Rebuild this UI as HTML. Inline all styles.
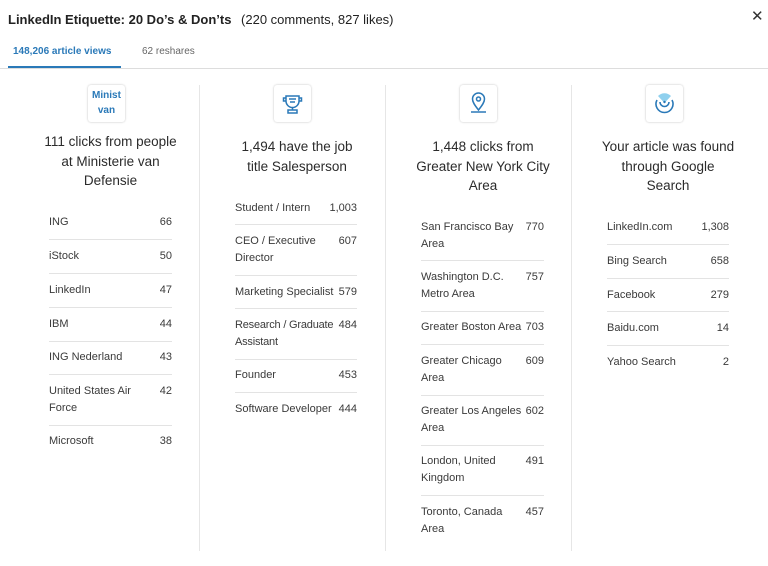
<!DOCTYPE html>
<html><head><meta charset="utf-8"><style>
body{margin:0;width:768px;height:566px;background:#fff;position:relative;overflow:hidden;font-family:"Liberation Sans",sans-serif;color:#333}
.a{position:absolute;white-space:nowrap}
.t{font-size:11px;line-height:17px;color:#3a3a3a}
.n{font-size:11px;line-height:17px;color:#3a3a3a;text-align:right}
.h{font-size:13.5px;line-height:19.5px;color:#2b2b2b;text-align:center;white-space:normal}
.sep{position:absolute;height:1px;background:#e3e3e3}
.vd{position:absolute;width:1px;background:#e6e6e6;top:85px;height:466px}
.ic{position:absolute;width:37px;height:37px;border-radius:3px;box-shadow:0 0 2px rgba(0,0,0,.25);background:#fff;top:85px}
</style></head><body>
<div class="a" style="left:8px;top:11px;font-size:13px;font-weight:bold;color:#222;line-height:18px">LinkedIn Etiquette: 20 Do’s &amp; Don’ts <span style="margin-left:6px;font-weight:normal;color:#222">(220 comments, 827 likes)</span></div>
<div class="a" style="left:751px;top:7px;font-size:15px;color:#333">✕</div>
<div class="a" style="left:13px;top:46px;font-size:10px;font-weight:bold;color:#2a79b8">148,206 article views</div>
<div class="a" style="left:142px;top:46px;font-size:10px;color:#666">62 reshares</div>
<div style="position:absolute;left:0;top:68px;width:768px;height:1px;background:#ddd"></div>
<div style="position:absolute;left:8px;top:66px;width:113px;height:2px;background:#2a79b8"></div>

<div class="vd" style="left:199px"></div><div class="vd" style="left:385px"></div><div class="vd" style="left:571px"></div>

<div class="ic" style="left:88px;overflow:hidden;font-size:10px;font-weight:bold;color:#2a79b8;text-align:center;line-height:15px;padding-top:3px;height:34px">Minist<br>van</div>
<div class="ic" style="left:274px"><svg width="37" height="37"><g fill="none" stroke="#2a79b8" stroke-width="1.5"><path d="M12 11h13v5a6.5 6.5 0 0 1-13 0z"/><path d="M12 13h-2.5v3h2.5M25 13h2.5v3h-2.5M18.5 22v3M14 25h9v3h-9z"/><path d="M15 14h7M16 17h5"/></g></svg></div>
<div class="ic" style="left:460px"><svg width="37" height="37"><g fill="none" stroke="#2a79b8" stroke-width="1.5"><path d="M18.5 25c-4-5-6-8-6-11a6 6 0 0 1 12 0c0 3-2 6-6 11z"/><circle cx="18.5" cy="14" r="2"/><path d="M11 27h15"/></g></svg></div>
<div class="ic" style="left:646px"><svg width="37" height="37"><path d="M12 11a9 9 0 0 1 13 0l-6.5 7z" fill="#8fd0ee"/><g fill="none" stroke="#2a79b8" stroke-width="1.6"><path d="M11 15a8.5 8.5 0 1 0 15 0"/><path d="M14 17a4.5 4.5 0 1 0 9 0"/></g><circle cx="18.5" cy="17" r="1.2" fill="#2a79b8"/></svg></div>

<div class="a h" style="left:43px;width:135px;top:132px">111 clicks from people at Ministerie van Defensie</div>
<div class="a h" style="left:234px;width:126px;top:137px">1,494 have the job title Salesperson</div>
<div class="a h" style="left:408px;width:150px;top:137px">1,448 clicks from Greater New York City Area</div>
<div class="a h" style="left:599px;width:138px;top:137px">Your article was found through Google Search</div>

<!-- col1 -->
<div class="a t" style="left:49px;top:214px">ING</div><div class="a n" style="left:130px;width:42px;top:214px">66</div>
<div class="sep" style="left:49px;width:123px;top:239px"></div>
<div class="a t" style="left:49px;top:248px">iStock</div><div class="a n" style="left:130px;width:42px;top:248px">50</div>
<div class="sep" style="left:49px;width:123px;top:273px"></div>
<div class="a t" style="left:49px;top:282px">LinkedIn</div><div class="a n" style="left:130px;width:42px;top:282px">47</div>
<div class="sep" style="left:49px;width:123px;top:307px"></div>
<div class="a t" style="left:49px;top:316px">IBM</div><div class="a n" style="left:130px;width:42px;top:316px">44</div>
<div class="sep" style="left:49px;width:123px;top:341px"></div>
<div class="a t" style="left:49px;top:349px">ING Nederland</div><div class="a n" style="left:130px;width:42px;top:349px">43</div>
<div class="sep" style="left:49px;width:123px;top:374px"></div>
<div class="a t" style="left:49px;top:383px">United States Air<br>Force</div><div class="a n" style="left:130px;width:42px;top:383px">42</div>
<div class="sep" style="left:49px;width:123px;top:425px"></div>
<div class="a t" style="left:49px;top:433px">Microsoft</div><div class="a n" style="left:130px;width:42px;top:433px">38</div>

<!-- col2 -->
<div class="a t" style="left:235px;top:200px">Student / Intern</div><div class="a n" style="left:307px;width:50px;top:200px">1,003</div>
<div class="sep" style="left:235px;width:122px;top:224px"></div>
<div class="a t" style="left:235px;top:233px">CEO / Executive<br>Director</div><div class="a n" style="left:307px;width:50px;top:233px">607</div>
<div class="sep" style="left:235px;width:122px;top:275px"></div>
<div class="a t" style="left:235px;top:284px">Marketing Specialist</div><div class="a n" style="left:307px;width:50px;top:284px">579</div>
<div class="sep" style="left:235px;width:122px;top:308px"></div>
<div class="a t" style="left:235px;top:317px;letter-spacing:-0.2px">Research / Graduate<br>Assistant</div><div class="a n" style="left:307px;width:50px;top:317px">484</div>
<div class="sep" style="left:235px;width:122px;top:359px"></div>
<div class="a t" style="left:235px;top:367px">Founder</div><div class="a n" style="left:307px;width:50px;top:367px">453</div>
<div class="sep" style="left:235px;width:122px;top:392px"></div>
<div class="a t" style="left:235px;top:401px">Software Developer</div><div class="a n" style="left:307px;width:50px;top:401px">444</div>

<!-- col3 -->
<div class="a t" style="left:421px;top:219px">San Francisco Bay<br>Area</div><div class="a n" style="left:494px;width:50px;top:219px">770</div>
<div class="sep" style="left:421px;width:123px;top:260px"></div>
<div class="a t" style="left:421px;top:269px">Washington D.C.<br>Metro Area</div><div class="a n" style="left:494px;width:50px;top:269px">757</div>
<div class="sep" style="left:421px;width:123px;top:311px"></div>
<div class="a t" style="left:421px;top:319px">Greater Boston Area</div><div class="a n" style="left:494px;width:50px;top:319px">703</div>
<div class="sep" style="left:421px;width:123px;top:344px"></div>
<div class="a t" style="left:421px;top:353px">Greater Chicago<br>Area</div><div class="a n" style="left:494px;width:50px;top:353px">609</div>
<div class="sep" style="left:421px;width:123px;top:395px"></div>
<div class="a t" style="left:421px;top:403px">Greater Los Angeles<br>Area</div><div class="a n" style="left:494px;width:50px;top:403px">602</div>
<div class="sep" style="left:421px;width:123px;top:445px"></div>
<div class="a t" style="left:421px;top:453px">London, United<br>Kingdom</div><div class="a n" style="left:494px;width:50px;top:453px">491</div>
<div class="sep" style="left:421px;width:123px;top:495px"></div>
<div class="a t" style="left:421px;top:504px">Toronto, Canada<br>Area</div><div class="a n" style="left:494px;width:50px;top:504px">457</div>

<!-- col4 -->
<div class="a t" style="left:607px;top:219px">LinkedIn.com</div><div class="a n" style="left:679px;width:50px;top:219px">1,308</div>
<div class="sep" style="left:607px;width:122px;top:244px"></div>
<div class="a t" style="left:607px;top:253px">Bing Search</div><div class="a n" style="left:679px;width:50px;top:253px">658</div>
<div class="sep" style="left:607px;width:122px;top:278px"></div>
<div class="a t" style="left:607px;top:287px">Facebook</div><div class="a n" style="left:679px;width:50px;top:287px">279</div>
<div class="sep" style="left:607px;width:122px;top:311px"></div>
<div class="a t" style="left:607px;top:320px">Baidu.com</div><div class="a n" style="left:679px;width:50px;top:320px">14</div>
<div class="sep" style="left:607px;width:122px;top:345px"></div>
<div class="a t" style="left:607px;top:354px">Yahoo Search</div><div class="a n" style="left:679px;width:50px;top:354px">2</div>
</body></html>
